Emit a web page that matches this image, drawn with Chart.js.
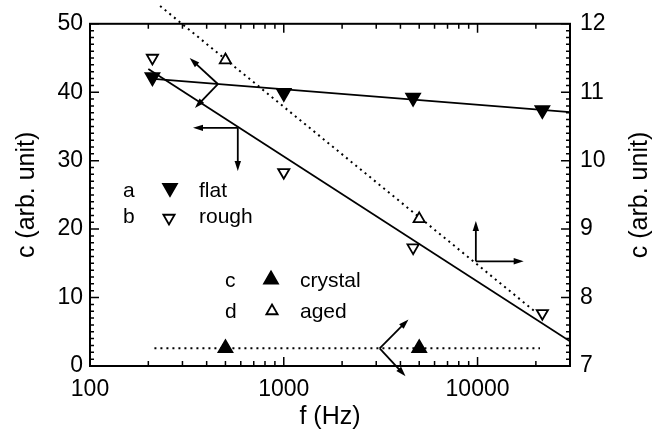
<!DOCTYPE html>
<html>
<head>
<meta charset="utf-8">
<script src="https://cdn.jsdelivr.net/npm/chart.js@4/dist/chart.umd.min.js"></script>
<style>
  html, body { margin: 0; padding: 0; background: #fff; }
</style>
</head>
<body>
<canvas id="chart" width="659" height="435"></canvas>
<script>
const FONT = '"Liberation Sans", Arial, Helvetica, sans-serif';

// tick labels
const freqTicks = [100, 1000, 10000];
const leftTicks = [0, 10, 20, 30, 40, 50];
const rightTicks = [7, 8, 9, 10, 11, 12];

// measured points (left axis unless noted)
const flatFreq = [210, 1000, 4650, 21600];
const flatC = [42.2, 39.9, 39.2, 37.4];
const roughFreq = [210, 1000, 4650, 21600];
const roughC = [45.0, 28.3, 17.3, 7.7];
const crystalFreq = [500, 5000];
const crystalC = [2.6, 2.6];
const agedFreq = [500, 5000];
const agedC = [11.47, 9.15]; // right axis

// fitted lines
const flatFitFreq = [205, 30000];
const flatFitC = [42.0, 37.1];
const roughFitFreq = [200, 30000];
const roughFitC = [43.4, 3.6];
const crystalFitFreq = [215, 21000];
const crystalFitC = [2.6, 2.6];
const agedFitFreq = [230, 20100];
const agedFitC = [12.26, 7.78]; // right axis

// axis-pointer arrows: a corner point and the tips, in data units
const arrowFlat = { axis: 'y', base: [457, 41.2], tips: [[327, 45.0], [348, 37.7]] };
const arrowRough = { axis: 'y', base: [579, 34.8], tips: [[340, 34.8], [579, 28.5]] };
const arrowAged = { axis: 'y2', base: [9800, 8.53], tips: [[9800, 9.12], [17300, 8.53]] };
const arrowCrystal = { axis: 'y', base: [3125, 2.58], tips: [[4400, 6.8], [4250, -1.5]] };

function pts(xs, ys) {
  return xs.map((x, i) => ({ x: x, y: ys[i] }));
}

// draws a triangle like chart.js does (centre = centroid)
function tri(ctx, x, y, r, down, filled) {
  const rot = down ? Math.PI : 0;
  ctx.beginPath();
  for (let k = 0; k < 3; k++) {
    const a = rot + k * 2 * Math.PI / 3;
    const px = x + Math.sin(a) * r, py = y - Math.cos(a) * r;
    if (k === 0) ctx.moveTo(px, py); else ctx.lineTo(px, py);
  }
  ctx.closePath();
  ctx.fillStyle = filled ? '#000' : '#fff';
  ctx.fill();
  ctx.lineWidth = 1.8;
  ctx.strokeStyle = '#000';
  ctx.stroke();
}

function arrowLine(ctx, x0, y0, x1, y1) {
  const ang = Math.atan2(y1 - y0, x1 - x0);
  const len = 10, half = 3.2;
  ctx.beginPath();
  ctx.moveTo(x0, y0);
  ctx.lineTo(x1 - Math.cos(ang) * len * 0.6, y1 - Math.sin(ang) * len * 0.6);
  ctx.stroke();
  ctx.beginPath();
  ctx.moveTo(x1, y1);
  ctx.lineTo(x1 - Math.cos(ang) * len - Math.sin(ang) * half, y1 - Math.sin(ang) * len + Math.cos(ang) * half);
  ctx.lineTo(x1 - Math.cos(ang) * len + Math.sin(ang) * half, y1 - Math.sin(ang) * len - Math.cos(ang) * half);
  ctx.closePath();
  ctx.fill();
}

// frame, inward ticks, arrows, legend, right title
const decor = {
  id: 'decor',
  afterDraw(chart) {
    const { ctx, chartArea: a, scales } = chart;
    const x = scales.x, y = scales.y, y2 = scales.y2;
    ctx.save();
    ctx.strokeStyle = '#000';
    ctx.fillStyle = '#000';

    // ticks
    ctx.lineWidth = 1.5;
    ctx.beginPath();
    const xMinor = [];
    for (let d = 100; d < 30000; d *= 10) {
      for (let m = 2; m <= 9; m++) if (d * m < 30000) xMinor.push(d * m);
    }
    xMinor.forEach(v => {
      const px = x.getPixelForValue(v);
      ctx.moveTo(px, a.bottom); ctx.lineTo(px, a.bottom - 5);
      ctx.moveTo(px, a.top); ctx.lineTo(px, a.top + 5);
    });
    freqTicks.forEach(v => {
      const px = x.getPixelForValue(v);
      ctx.moveTo(px, a.bottom); ctx.lineTo(px, a.bottom - 9);
      ctx.moveTo(px, a.top); ctx.lineTo(px, a.top + 9);
    });
    for (let v = 0; v <= 50; v++) {
      const py = y.getPixelForValue(v);
      ctx.moveTo(a.left, py); ctx.lineTo(a.left + (v % 10 === 0 ? 9 : 4), py);
    }
    for (let k = 70; k <= 120; k++) {
      const py = y2.getPixelForValue(k / 10);
      ctx.moveTo(a.right, py); ctx.lineTo(a.right - (k % 10 === 0 ? 9 : 4), py);
    }
    ctx.stroke();

    // frame
    ctx.lineWidth = 2;
    ctx.strokeRect(a.left, a.top, a.right - a.left, a.bottom - a.top);

    // arrows
    ctx.lineWidth = 1.8;
    [arrowFlat, arrowRough, arrowAged, arrowCrystal].forEach(ar => {
      const ys = scales[ar.axis];
      const bx = x.getPixelForValue(ar.base[0]), by = ys.getPixelForValue(ar.base[1]);
      ar.tips.forEach(t => {
        arrowLine(ctx, bx, by, x.getPixelForValue(t[0]), ys.getPixelForValue(t[1]));
      });
    });

    // legend
    ctx.font = '21px ' + FONT;
    ctx.textBaseline = 'alphabetic';
    ctx.textAlign = 'left';
    const rows = [
      ['a', 'flat', 123, 199, 170, 197, 188, true, true],
      ['b', 'rough', 123, 199, 169, 223, 218, true, false],
      ['c', 'crystal', 225, 300, 271, 287, 279.5, false, true],
      ['d', 'aged', 225, 300, 272, 318, 311, false, false]
    ];
    rows.forEach(r => {
      ctx.fillStyle = '#000';
      ctx.fillText(r[0], r[2], r[5]);
      ctx.fillText(r[1], r[3], r[5]);
      tri(ctx, r[4], r[6], r[8] ? 8 : 6.5, r[7], r[8]);
    });

    // right axis title
    ctx.fillStyle = '#000';
    ctx.font = '25px ' + FONT;
    ctx.textAlign = 'center';
    ctx.textBaseline = 'middle';
    ctx.translate(640, 195);
    ctx.rotate(-Math.PI / 2);
    ctx.fillText('c (arb. unit)', 0, 0);
    ctx.restore();
  }
};

Chart.defaults.font.family = FONT;
Chart.defaults.color = '#000';

const markerBase = { showLine: false, pointStyle: 'triangle', pointBorderColor: '#000', pointBorderWidth: 1.8 };
const lineBase = { showLine: true, pointRadius: 0, borderColor: '#000', backgroundColor: '#000', tension: 0 };

new Chart(document.getElementById('chart'), {
  type: 'scatter',
  data: {
    datasets: [
      Object.assign({}, markerBase, { label: 'flat', data: pts(flatFreq, flatC), yAxisID: 'y',
        pointRotation: 180, pointRadius: 8, pointBackgroundColor: '#000' }),
      Object.assign({}, markerBase, { label: 'rough', data: pts(roughFreq, roughC), yAxisID: 'y',
        pointRotation: 180, pointRadius: 6.5, pointBackgroundColor: '#fff' }),
      Object.assign({}, markerBase, { label: 'crystal', data: pts(crystalFreq, crystalC), yAxisID: 'y',
        pointRotation: 0, pointRadius: 8, pointBackgroundColor: '#000' }),
      Object.assign({}, markerBase, { label: 'aged', data: pts(agedFreq, agedC), yAxisID: 'y2',
        pointRotation: 0, pointRadius: 6.5, pointBackgroundColor: '#fff' }),
      Object.assign({}, lineBase, { label: 'flat fit', data: pts(flatFitFreq, flatFitC), yAxisID: 'y', borderWidth: 1.8 }),
      Object.assign({}, lineBase, { label: 'rough fit', data: pts(roughFitFreq, roughFitC), yAxisID: 'y', borderWidth: 1.8 }),
      Object.assign({}, lineBase, { label: 'crystal fit', data: pts(crystalFitFreq, crystalFitC), yAxisID: 'y',
        borderWidth: 2, borderDash: [2, 4] }),
      Object.assign({}, lineBase, { label: 'aged fit', data: pts(agedFitFreq, agedFitC), yAxisID: 'y2',
        borderWidth: 2, borderDash: [2, 4], clip: false })
    ]
  },
  options: {
    responsive: false,
    animation: false,
    layout: { padding: { top: 23, left: 0, right: 0, bottom: 0 } },
    plugins: { legend: { display: false }, tooltip: { enabled: false } },
    scales: {
      x: {
        type: 'logarithmic',
        min: 100,
        max: 30000,
        grid: { display: false, drawTicks: false },
        border: { display: false },
        afterBuildTicks: s => { s.ticks = freqTicks.map(v => ({ value: v })); },
        afterFit: s => { s.height = 69; },
        ticks: { autoSkip: false, maxRotation: 0, padding: 10, font: { size: 23 }, callback: v => String(v) },
        title: { display: true, text: 'f (Hz)', font: { size: 25 }, padding: { top: 0, bottom: 3 } }
      },
      y: {
        position: 'left',
        min: 0,
        max: 50,
        grid: { display: false, drawTicks: false },
        border: { display: false },
        afterBuildTicks: s => { s.ticks = leftTicks.map(v => ({ value: v })); },
        afterFit: s => { s.width = 90; },
        ticks: { padding: 7, font: { size: 23 } },
        title: { display: true, text: 'c (arb. unit)', font: { size: 25 }, padding: { top: 12, bottom: 0 } }
      },
      y2: {
        position: 'right',
        min: 7,
        max: 12,
        grid: { display: false, drawTicks: false },
        border: { display: false },
        afterBuildTicks: s => { s.ticks = rightTicks.map(v => ({ value: v })); },
        afterFit: s => { s.width = 89; },
        ticks: { padding: 10, font: { size: 23 } }
      }
    }
  },
  plugins: [decor]
});
</script>
</body>
</html>
